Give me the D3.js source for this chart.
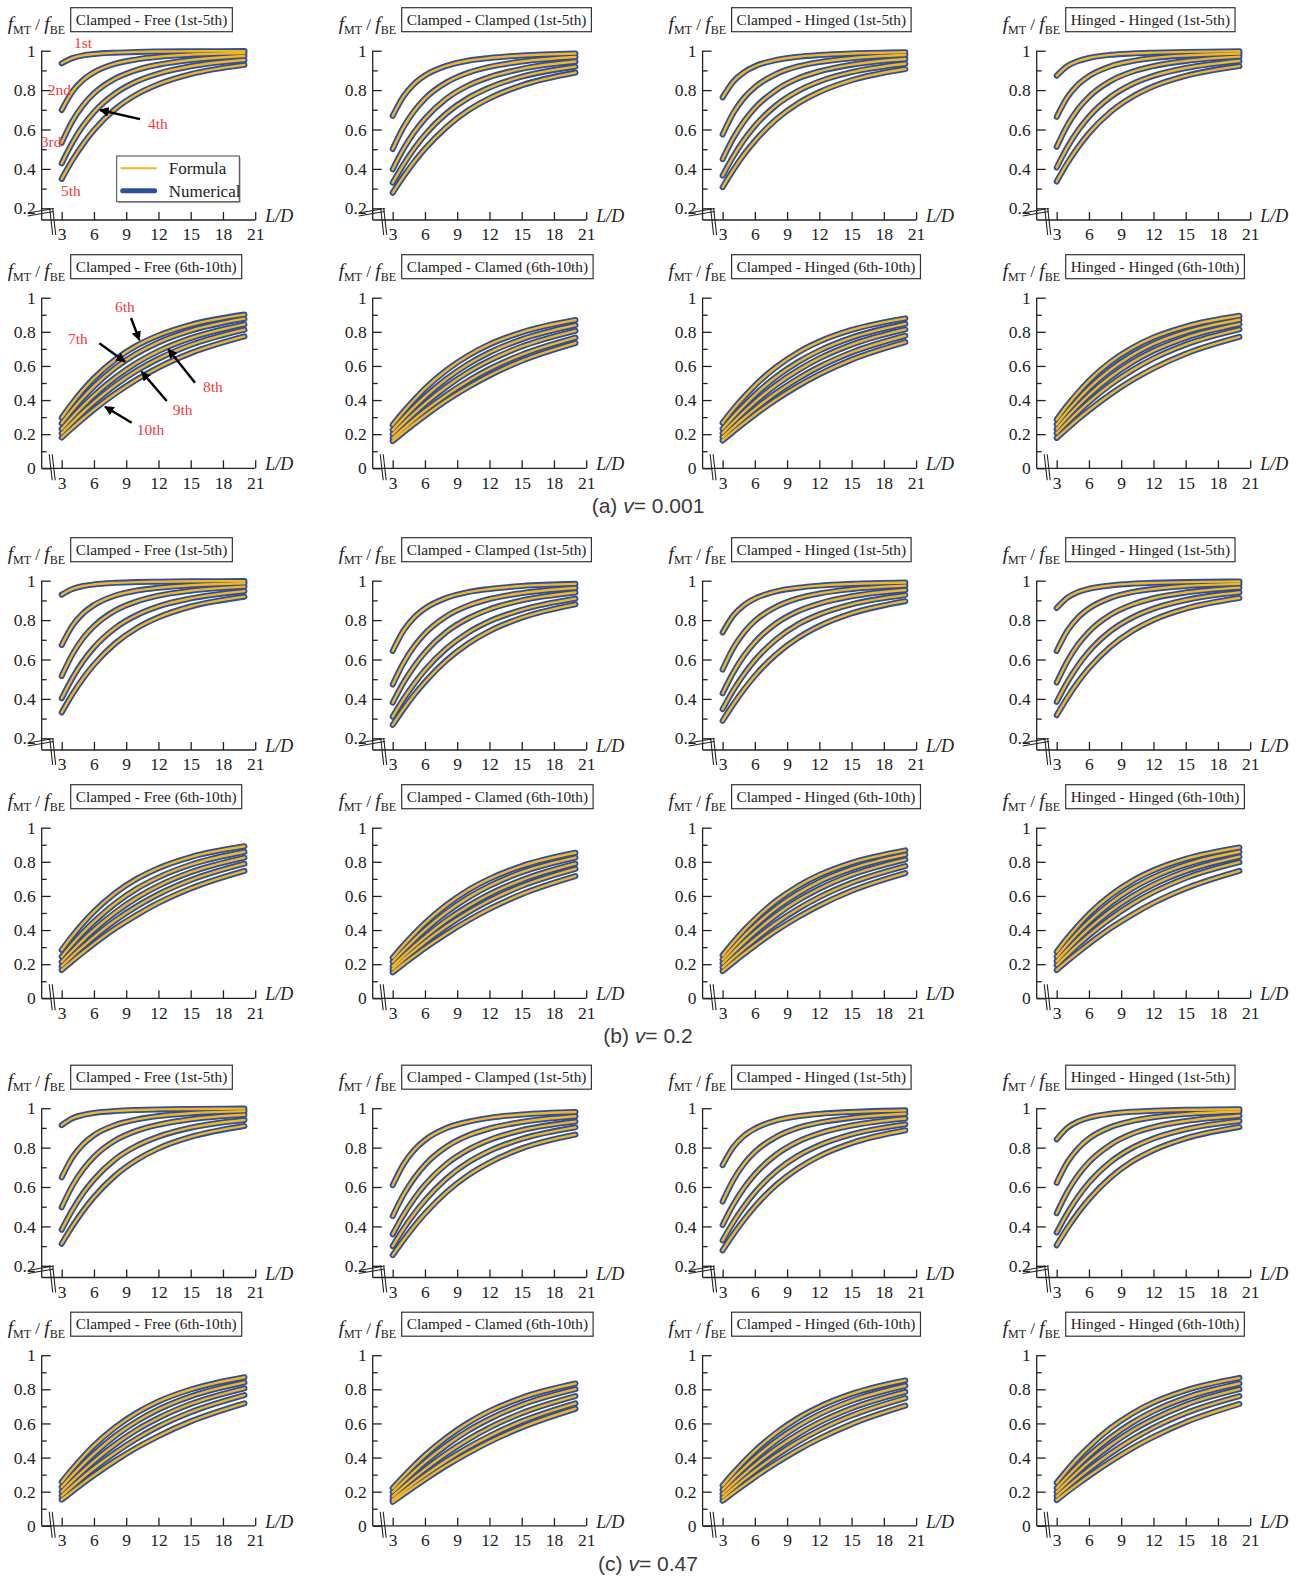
<!DOCTYPE html>
<html>
<head>
<meta charset="utf-8">
<script src="https://cdn.jsdelivr.net/npm/d3@7"></script>
<style>
  body { margin: 0; background: #fff; }
  svg text { font-family: "Liberation Serif", "Times New Roman", serif; }
  svg text.caption { font-family: "Liberation Sans", Arial, sans-serif; }
</style>
</head>
<body>
<svg id="chart" width="1299" height="1576"></svg>
<script>
const ldValues = [3, 4, 5, 6, 8, 10, 12, 15, 20];
const xTicks = [3, 6, 9, 12, 15, 18, 21];
const yTicksLow = [0.2, 0.4, 0.6, 0.8, 1];
const yMinorLow = [0.3, 0.5, 0.7, 0.9];
const yTicksFull = [0, 0.2, 0.4, 0.6, 0.8, 1];
const yMinorFull = [0.1, 0.3, 0.5, 0.7, 0.9];

const titlesLow = ["Clamped - Free (1st-5th)", "Clamped - Clamped (1st-5th)", "Clamped - Hinged (1st-5th)", "Hinged - Hinged (1st-5th)"];
const titlesHigh = ["Clamped - Free (6th-10th)", "Clamped - Clamed (6th-10th)", "Clamped - Hinged (6th-10th)", "Hinged - Hinged (6th-10th)"];
const captionLetters = ["(a) ", "(b) ", "(c) "];
const poissonValues = ["0.001", "0.2", "0.47"];

// ---- (a) v = 0.001 ----
const cfLowA = [
  [0.936, 0.962, 0.976, 0.983, 0.990, 0.994, 0.996, 0.997, 0.998],
  [0.699, 0.793, 0.852, 0.890, 0.934, 0.956, 0.969, 0.980, 0.988],
  [0.533, 0.643, 0.724, 0.783, 0.859, 0.903, 0.929, 0.953, 0.973],
  [0.428, 0.534, 0.620, 0.688, 0.784, 0.845, 0.884, 0.921, 0.953],
  [0.349, 0.445, 0.527, 0.597, 0.705, 0.779, 0.830, 0.881, 0.928]
];
const ccLowA = [
  [0.669, 0.768, 0.832, 0.874, 0.923, 0.949, 0.963, 0.976, 0.986],
  [0.501, 0.611, 0.694, 0.757, 0.839, 0.888, 0.918, 0.945, 0.968],
  [0.398, 0.501, 0.586, 0.655, 0.757, 0.823, 0.866, 0.908, 0.945],
  [0.330, 0.422, 0.503, 0.573, 0.682, 0.759, 0.813, 0.868, 0.919],
  [0.279, 0.361, 0.436, 0.502, 0.612, 0.696, 0.758, 0.824, 0.889]
];
const chLowA = [
  [0.763, 0.844, 0.891, 0.921, 0.953, 0.969, 0.978, 0.986, 0.992],
  [0.575, 0.684, 0.761, 0.815, 0.882, 0.920, 0.942, 0.962, 0.978],
  [0.449, 0.557, 0.642, 0.709, 0.801, 0.859, 0.895, 0.929, 0.958],
  [0.366, 0.464, 0.548, 0.618, 0.724, 0.795, 0.844, 0.891, 0.934],
  [0.307, 0.395, 0.474, 0.542, 0.652, 0.732, 0.790, 0.850, 0.907]
];
const hhLowA = [
  [0.873, 0.922, 0.948, 0.963, 0.979, 0.986, 0.990, 0.994, 0.997],
  [0.664, 0.764, 0.829, 0.871, 0.921, 0.947, 0.963, 0.976, 0.986],
  [0.512, 0.622, 0.705, 0.766, 0.846, 0.893, 0.922, 0.948, 0.970],
  [0.407, 0.511, 0.596, 0.665, 0.765, 0.830, 0.872, 0.912, 0.948],
  [0.336, 0.430, 0.511, 0.581, 0.689, 0.765, 0.819, 0.872, 0.922]
];
const cfHighA = [
  [0.297, 0.383, 0.460, 0.528, 0.638, 0.720, 0.779, 0.841, 0.901],
  [0.264, 0.343, 0.415, 0.480, 0.590, 0.674, 0.738, 0.807, 0.877],
  [0.230, 0.301, 0.366, 0.427, 0.533, 0.619, 0.687, 0.763, 0.844],
  [0.205, 0.269, 0.330, 0.386, 0.488, 0.573, 0.642, 0.723, 0.813],
  [0.180, 0.237, 0.292, 0.344, 0.439, 0.521, 0.591, 0.675, 0.773]
];
const ccHighA = [
  [0.255, 0.332, 0.402, 0.467, 0.575, 0.660, 0.726, 0.797, 0.869],
  [0.225, 0.294, 0.359, 0.419, 0.524, 0.610, 0.679, 0.756, 0.839],
  [0.200, 0.263, 0.322, 0.378, 0.478, 0.563, 0.632, 0.714, 0.806],
  [0.176, 0.232, 0.286, 0.337, 0.430, 0.512, 0.582, 0.666, 0.766],
  [0.160, 0.211, 0.261, 0.308, 0.397, 0.475, 0.544, 0.630, 0.734]
];
const chHighA = [
  [0.267, 0.347, 0.419, 0.485, 0.594, 0.679, 0.743, 0.811, 0.879],
  [0.232, 0.303, 0.369, 0.431, 0.537, 0.622, 0.690, 0.766, 0.847],
  [0.206, 0.270, 0.331, 0.388, 0.490, 0.574, 0.644, 0.725, 0.814],
  [0.182, 0.240, 0.295, 0.347, 0.443, 0.525, 0.595, 0.679, 0.777],
  [0.163, 0.215, 0.265, 0.314, 0.403, 0.482, 0.551, 0.637, 0.740]
];
const hhHighA = [
  [0.286, 0.370, 0.445, 0.513, 0.623, 0.705, 0.767, 0.831, 0.894],
  [0.257, 0.334, 0.405, 0.470, 0.578, 0.663, 0.729, 0.799, 0.871],
  [0.231, 0.302, 0.368, 0.429, 0.535, 0.621, 0.689, 0.765, 0.845],
  [0.206, 0.270, 0.331, 0.388, 0.490, 0.574, 0.644, 0.725, 0.814],
  [0.178, 0.234, 0.289, 0.340, 0.434, 0.516, 0.586, 0.671, 0.770]
];

// ---- (b) v = 0.2 ----
const cfLowB = [
  [0.929, 0.958, 0.973, 0.981, 0.989, 0.993, 0.995, 0.997, 0.998],
  [0.673, 0.772, 0.835, 0.876, 0.925, 0.950, 0.964, 0.977, 0.987],
  [0.516, 0.626, 0.709, 0.769, 0.849, 0.895, 0.924, 0.949, 0.970],
  [0.403, 0.506, 0.592, 0.661, 0.761, 0.826, 0.870, 0.910, 0.947],
  [0.331, 0.424, 0.505, 0.574, 0.683, 0.760, 0.814, 0.869, 0.919]
];
const ccLowB = [
  [0.643, 0.746, 0.814, 0.859, 0.913, 0.942, 0.958, 0.973, 0.984],
  [0.473, 0.582, 0.667, 0.732, 0.820, 0.873, 0.907, 0.937, 0.963],
  [0.381, 0.482, 0.566, 0.636, 0.740, 0.808, 0.855, 0.900, 0.940],
  [0.310, 0.399, 0.477, 0.546, 0.656, 0.736, 0.794, 0.852, 0.909],
  [0.268, 0.348, 0.421, 0.486, 0.596, 0.680, 0.744, 0.812, 0.880]
];
const chLowB = [
  [0.737, 0.824, 0.876, 0.909, 0.946, 0.964, 0.975, 0.984, 0.991],
  [0.549, 0.659, 0.738, 0.796, 0.868, 0.910, 0.935, 0.957, 0.975],
  [0.428, 0.534, 0.620, 0.688, 0.784, 0.845, 0.884, 0.921, 0.953],
  [0.348, 0.444, 0.526, 0.596, 0.703, 0.778, 0.829, 0.880, 0.927],
  [0.289, 0.373, 0.449, 0.517, 0.627, 0.709, 0.770, 0.834, 0.896]
];
const hhLowB = [
  [0.861, 0.914, 0.943, 0.959, 0.976, 0.985, 0.989, 0.993, 0.996],
  [0.643, 0.746, 0.814, 0.859, 0.913, 0.942, 0.958, 0.973, 0.984],
  [0.483, 0.592, 0.677, 0.741, 0.827, 0.878, 0.911, 0.940, 0.965],
  [0.385, 0.486, 0.571, 0.641, 0.744, 0.812, 0.858, 0.902, 0.941],
  [0.317, 0.407, 0.487, 0.556, 0.665, 0.744, 0.801, 0.858, 0.912]
];
const cfHighB = [
  [0.283, 0.366, 0.441, 0.508, 0.618, 0.701, 0.763, 0.828, 0.891],
  [0.244, 0.318, 0.387, 0.449, 0.557, 0.643, 0.709, 0.783, 0.859],
  [0.214, 0.280, 0.343, 0.401, 0.504, 0.590, 0.659, 0.739, 0.825],
  [0.189, 0.249, 0.305, 0.359, 0.457, 0.540, 0.610, 0.693, 0.789],
  [0.166, 0.219, 0.270, 0.319, 0.410, 0.489, 0.559, 0.644, 0.747]
];
const ccHighB = [
  [0.238, 0.311, 0.378, 0.440, 0.547, 0.633, 0.700, 0.775, 0.853],
  [0.214, 0.280, 0.343, 0.401, 0.504, 0.590, 0.659, 0.739, 0.825],
  [0.189, 0.249, 0.305, 0.359, 0.457, 0.540, 0.610, 0.693, 0.789],
  [0.172, 0.227, 0.279, 0.330, 0.422, 0.503, 0.573, 0.658, 0.759],
  [0.152, 0.201, 0.248, 0.294, 0.379, 0.456, 0.524, 0.610, 0.716]
];
const chHighB = [
  [0.253, 0.329, 0.400, 0.463, 0.572, 0.657, 0.723, 0.794, 0.867],
  [0.228, 0.298, 0.364, 0.424, 0.530, 0.615, 0.684, 0.760, 0.842],
  [0.205, 0.269, 0.330, 0.386, 0.488, 0.573, 0.642, 0.723, 0.813],
  [0.181, 0.238, 0.293, 0.345, 0.441, 0.523, 0.593, 0.677, 0.775],
  [0.160, 0.211, 0.261, 0.308, 0.397, 0.475, 0.544, 0.630, 0.734]
];
const hhHighB = [
  [0.273, 0.354, 0.427, 0.494, 0.603, 0.687, 0.750, 0.817, 0.884],
  [0.244, 0.318, 0.387, 0.449, 0.557, 0.643, 0.709, 0.783, 0.859],
  [0.218, 0.285, 0.349, 0.408, 0.512, 0.597, 0.666, 0.745, 0.830],
  [0.195, 0.256, 0.315, 0.369, 0.468, 0.552, 0.622, 0.705, 0.798],
  [0.166, 0.219, 0.270, 0.319, 0.410, 0.489, 0.559, 0.644, 0.747]
];

// ---- (c) v = 0.47 ----
const cfLowC = [
  [0.914, 0.949, 0.966, 0.976, 0.986, 0.991, 0.994, 0.996, 0.998],
  [0.649, 0.751, 0.818, 0.863, 0.915, 0.943, 0.960, 0.974, 0.985],
  [0.497, 0.607, 0.690, 0.753, 0.837, 0.886, 0.916, 0.944, 0.967],
  [0.383, 0.484, 0.569, 0.638, 0.742, 0.810, 0.856, 0.901, 0.940],
  [0.312, 0.401, 0.480, 0.549, 0.659, 0.738, 0.796, 0.854, 0.910]
];
const ccLowC = [
  [0.609, 0.715, 0.788, 0.838, 0.899, 0.931, 0.951, 0.968, 0.981],
  [0.452, 0.560, 0.645, 0.712, 0.804, 0.861, 0.897, 0.930, 0.959],
  [0.360, 0.458, 0.541, 0.611, 0.717, 0.789, 0.839, 0.888, 0.932],
  [0.300, 0.387, 0.464, 0.532, 0.643, 0.724, 0.783, 0.844, 0.903],
  [0.254, 0.330, 0.401, 0.465, 0.574, 0.659, 0.724, 0.796, 0.866]
];
const chLowC = [
  [0.711, 0.803, 0.860, 0.896, 0.938, 0.959, 0.971, 0.981, 0.989],
  [0.526, 0.636, 0.718, 0.778, 0.855, 0.900, 0.927, 0.951, 0.972],
  [0.407, 0.511, 0.596, 0.665, 0.765, 0.830, 0.872, 0.912, 0.948],
  [0.329, 0.421, 0.502, 0.572, 0.681, 0.758, 0.812, 0.867, 0.918],
  [0.278, 0.360, 0.434, 0.501, 0.611, 0.694, 0.757, 0.823, 0.888]
];
const hhLowC = [
  [0.842, 0.901, 0.933, 0.952, 0.972, 0.982, 0.987, 0.992, 0.995],
  [0.621, 0.726, 0.797, 0.846, 0.904, 0.935, 0.954, 0.970, 0.983],
  [0.467, 0.576, 0.661, 0.726, 0.815, 0.870, 0.904, 0.935, 0.962],
  [0.369, 0.468, 0.552, 0.622, 0.727, 0.798, 0.846, 0.893, 0.935],
  [0.304, 0.392, 0.470, 0.538, 0.648, 0.729, 0.787, 0.847, 0.905]
];
const cfHighC = [
  [0.257, 0.334, 0.405, 0.470, 0.578, 0.663, 0.729, 0.799, 0.871],
  [0.227, 0.297, 0.362, 0.422, 0.528, 0.613, 0.682, 0.759, 0.841],
  [0.200, 0.263, 0.322, 0.378, 0.478, 0.563, 0.632, 0.714, 0.806],
  [0.176, 0.232, 0.286, 0.337, 0.430, 0.512, 0.582, 0.666, 0.766],
  [0.153, 0.202, 0.250, 0.296, 0.382, 0.459, 0.526, 0.612, 0.718]
];
const ccHighC = [
  [0.221, 0.289, 0.353, 0.413, 0.517, 0.603, 0.672, 0.750, 0.834],
  [0.197, 0.259, 0.318, 0.373, 0.472, 0.557, 0.626, 0.709, 0.801],
  [0.173, 0.228, 0.281, 0.331, 0.424, 0.505, 0.575, 0.660, 0.760],
  [0.153, 0.202, 0.250, 0.296, 0.382, 0.459, 0.526, 0.612, 0.718],
  [0.140, 0.185, 0.229, 0.272, 0.353, 0.426, 0.492, 0.577, 0.686]
];
const chHighC = [
  [0.237, 0.309, 0.377, 0.439, 0.545, 0.631, 0.698, 0.773, 0.852],
  [0.211, 0.277, 0.338, 0.396, 0.499, 0.584, 0.653, 0.733, 0.821],
  [0.187, 0.246, 0.302, 0.356, 0.453, 0.536, 0.606, 0.689, 0.785],
  [0.167, 0.220, 0.272, 0.321, 0.412, 0.492, 0.561, 0.646, 0.749],
  [0.147, 0.194, 0.240, 0.285, 0.368, 0.444, 0.511, 0.596, 0.704]
];
const hhHighC = [
  [0.253, 0.329, 0.400, 0.463, 0.572, 0.657, 0.723, 0.794, 0.867],
  [0.221, 0.289, 0.353, 0.413, 0.517, 0.603, 0.672, 0.750, 0.834],
  [0.197, 0.259, 0.318, 0.373, 0.472, 0.557, 0.626, 0.709, 0.801],
  [0.173, 0.228, 0.281, 0.331, 0.424, 0.505, 0.575, 0.660, 0.760],
  [0.151, 0.200, 0.247, 0.292, 0.377, 0.454, 0.521, 0.607, 0.714]
];

// mode labels + arrows on the first column of (a), in data units (L/D, ratio)
const lowModeLabels = [
  { text: "1st", ld: 4.14, v: 1.014 },
  { text: "2nd", ld: 1.70, v: 0.775 },
  { text: "3rd", ld: 1.05, v: 0.511 },
  { text: "4th", ld: 11.03, v: 0.603 },
  { text: "5th", ld: 2.93, v: 0.262 }
];
const lowModeArrows = [[10.28, 0.653, 6.56, 0.699]];
const highModeLabels = [
  { text: "6th", ld: 7.96, v: 0.914 },
  { text: "7th", ld: 3.59, v: 0.729 },
  { text: "8th", ld: 16.14, v: 0.449 },
  { text: "9th", ld: 13.33, v: 0.312 },
  { text: "10th", ld: 9.98, v: 0.195 }
];
const highModeArrows = [
  [9.45, 0.881, 10.22, 0.752],
  [6.50, 0.733, 8.89, 0.625],
  [15.40, 0.502, 12.92, 0.698],
  [12.77, 0.394, 10.44, 0.566],
  [9.51, 0.267, 7.03, 0.361]
];

const groups = [
  { low: [cfLowA, ccLowA, chLowA, hhLowA], high: [cfHighA, ccHighA, chHighA, hhHighA] },
  { low: [cfLowB, ccLowB, chLowB, hhLowB], high: [cfHighB, ccHighB, chHighB, hhHighB] },
  { low: [cfLowC, ccLowC, chLowC, hhLowC], high: [cfHighC, ccHighC, chHighC, hhHighC] }
];

// ---------- layout ----------
const colAxisX = [41.7, 372.7, 702.6, 1036.7];
const groupTop = [0, 530, 1057.5];
const rowTop = [50.7, 297.7];
const blue = "#2c4f9e";
const gold = "#f5b51e";
const ink = "#222";
const serif = "'Liberation Serif', 'Times New Roman', serif";

const svg = d3.select("#chart");

const defs = svg.append("defs");
defs.append("marker")
  .attr("id", "arrowhead")
  .attr("viewBox", "0 0 10 10")
  .attr("refX", 9).attr("refY", 5)
  .attr("markerWidth", 4).attr("markerHeight", 4)
  .attr("orient", "auto")
  .append("path")
  .attr("d", "M0,0 L10,5 L0,10 z")
  .attr("fill", "#000");

function drawPanel(gi, row, col, title, curves) {
  const ax = colAxisX[col];
  const top = groupTop[gi] + rowTop[row];
  const x = d3.scaleLinear().domain([3, 21]).range([ax + 20, ax + 213.5]);
  const y = row === 0
    ? d3.scaleLinear().domain([0.2, 1]).range([top + 157.6, top])
    : d3.scaleLinear().domain([0, 1]).range([top + 170.6, top]);
  const baseY = row === 0 ? top + 169.3 : top + 170.6;

  const g = svg.append("g");

  // axis lines (the y axis runs past 0.2 down to the break)
  g.append("line").attr("x1", ax).attr("x2", ax).attr("y1", top).attr("y2", baseY)
    .attr("stroke", ink).attr("stroke-width", 1.3);
  g.append("line").attr("x1", ax).attr("x2", x(21)).attr("y1", baseY).attr("y2", baseY)
    .attr("stroke", ink).attr("stroke-width", 1.3);

  const styleAxis = sel => {
    sel.select(".domain").remove();
    sel.attr("font-family", serif).attr("font-size", 17.5).attr("color", ink);
    sel.selectAll(".tick line").attr("stroke-width", 1.3);
  };

  g.append("g").attr("transform", `translate(${ax},0)`)
    .call(d3.axisLeft(y).tickValues(row === 0 ? yTicksLow : yTicksFull)
      .tickSize(-9).tickPadding(6).tickFormat(d3.format("~g")))
    .call(styleAxis);
  g.append("g").attr("transform", `translate(${ax},0)`)
    .call(d3.axisLeft(y).tickValues(row === 0 ? yMinorLow : yMinorFull)
      .tickSize(-5).tickFormat(""))
    .call(styleAxis);
  g.append("g").attr("transform", `translate(0,${baseY})`)
    .call(d3.axisBottom(x).tickValues(xTicks).tickSize(-8).tickPadding(8))
    .call(styleAxis);

  // axis breaks
  const brk = [];
  if (row === 0) {
    brk.push([ax - 14, baseY - 7, ax + 12, baseY - 11.5]);
    brk.push([ax - 14, baseY - 4, ax + 12, baseY - 8.5]);
    brk.push([ax + 8, baseY - 12, ax + 11, baseY + 15]);
    brk.push([ax + 11, baseY - 12, ax + 14, baseY + 15]);
  } else {
    brk.push([ax + 7.5, baseY - 14, ax + 10.5, baseY + 12]);
    brk.push([ax + 10.5, baseY - 14, ax + 13.5, baseY + 12]);
  }
  brk.forEach(b => g.append("line")
    .attr("x1", b[0]).attr("y1", b[1]).attr("x2", b[2]).attr("y2", b[3])
    .attr("stroke", ink).attr("stroke-width", 1.1));

  // L/D label
  g.append("text").attr("x", x(21) + 10).attr("y", baseY + 2)
    .attr("font-family", serif).attr("font-style", "italic").attr("font-size", 18)
    .attr("fill", ink).text("L/D");

  // f_MT / f_BE label
  const yl = g.append("text").attr("x", ax - 34).attr("y", top - 21)
    .attr("font-family", serif).attr("font-size", 19.5).attr("fill", ink);
  yl.append("tspan").attr("font-style", "italic").text("f");
  yl.append("tspan").attr("font-size", 12).attr("dy", 4).text("MT");
  yl.append("tspan").attr("font-size", 17).attr("dy", -4).text(" / ");
  yl.append("tspan").attr("font-style", "italic").text("f");
  yl.append("tspan").attr("font-size", 12).attr("dy", 4).text("BE");

  // title box
  const boxX = ax + 29;
  const rect = g.append("rect")
    .attr("x", boxX).attr("y", top - 43).attr("height", 24)
    .attr("fill", "#fff").attr("stroke", "#333").attr("stroke-width", 1.2);
  const tt = g.append("text").attr("x", boxX + 5).attr("y", top - 26)
    .attr("font-family", serif).attr("font-size", 15.3).attr("fill", ink).text(title);
  rect.attr("width", tt.node().getComputedTextLength() + 10);

  // curves: numerical (thick blue) under formula (thin gold)
  const line = d3.line()
    .x((d, i) => x(ldValues[i]))
    .y(d => y(d))
    .curve(d3.curveMonotoneX);
  g.selectAll("path.num").data(curves).enter().append("path")
    .attr("class", "num").attr("d", line)
    .attr("fill", "none").attr("stroke", blue).attr("stroke-width", 6)
    .attr("stroke-linecap", "round").attr("stroke-linejoin", "round");
  g.selectAll("path.frm").data(curves).enter().append("path")
    .attr("class", "frm").attr("d", line)
    .attr("fill", "none").attr("stroke", gold).attr("stroke-width", 2.4)
    .attr("stroke-linecap", "round");

  return { g, x, y, ax, top };
}

function addModeNotes(p, labels, arrows) {
  labels.forEach(l => p.g.append("text")
    .attr("x", p.x(l.ld)).attr("y", p.y(l.v))
    .attr("font-family", serif).attr("font-size", 15.5).attr("fill", "#f23c3c")
    .text(l.text));
  arrows.forEach(a => p.g.append("line")
    .attr("x1", p.x(a[0])).attr("y1", p.y(a[1]))
    .attr("x2", p.x(a[2])).attr("y2", p.y(a[3]))
    .attr("stroke", "#000").attr("stroke-width", 2.4)
    .attr("marker-end", "url(#arrowhead)"));
}

function addLegend(p) {
  const lx = p.ax + 75, ly = p.top + 105.3;
  const lg = p.g.append("g");
  lg.append("rect").attr("x", lx + 1.5).attr("y", ly + 1.5).attr("width", 122.6).attr("height", 45.7)
    .attr("fill", "#bbb");
  lg.append("rect").attr("x", lx).attr("y", ly).attr("width", 122.6).attr("height", 45.7)
    .attr("fill", "#fff").attr("stroke", "#444").attr("stroke-width", 1);
  lg.append("line").attr("x1", lx + 4).attr("x2", lx + 40).attr("y1", ly + 12.3).attr("y2", ly + 12.3)
    .attr("stroke", gold).attr("stroke-width", 2);
  lg.append("line").attr("x1", lx + 6).attr("x2", lx + 38).attr("y1", ly + 34.7).attr("y2", ly + 34.7)
    .attr("stroke", blue).attr("stroke-width", 5).attr("stroke-linecap", "round");
  lg.append("text").attr("x", lx + 52).attr("y", ly + 18)
    .attr("font-family", serif).attr("font-size", 17).attr("fill", ink).text("Formula");
  lg.append("text").attr("x", lx + 52).attr("y", ly + 40.5)
    .attr("font-family", serif).attr("font-size", 17).attr("fill", ink).text("Numerical");
}

groups.forEach((grp, gi) => {
  grp.low.forEach((curves, c) => {
    const p = drawPanel(gi, 0, c, titlesLow[c], curves);
    if (gi === 0 && c === 0) {
      addModeNotes(p, lowModeLabels, lowModeArrows);
      addLegend(p);
    }
  });
  grp.high.forEach((curves, c) => {
    const p = drawPanel(gi, 1, c, titlesHigh[c], curves);
    if (gi === 0 && c === 0) addModeNotes(p, highModeLabels, highModeArrows);
  });

  const cap = svg.append("text")
    .attr("class", "caption")
    .attr("x", 648).attr("y", groupTop[gi] + 513)
    .attr("text-anchor", "middle")
    .attr("font-size", 21).attr("fill", "#3a3a3a");
  cap.append("tspan").text(captionLetters[gi]);
  cap.append("tspan").attr("font-style", "italic").text("v");
  cap.append("tspan").text("= " + poissonValues[gi]);
});
</script>
</body>
</html>
